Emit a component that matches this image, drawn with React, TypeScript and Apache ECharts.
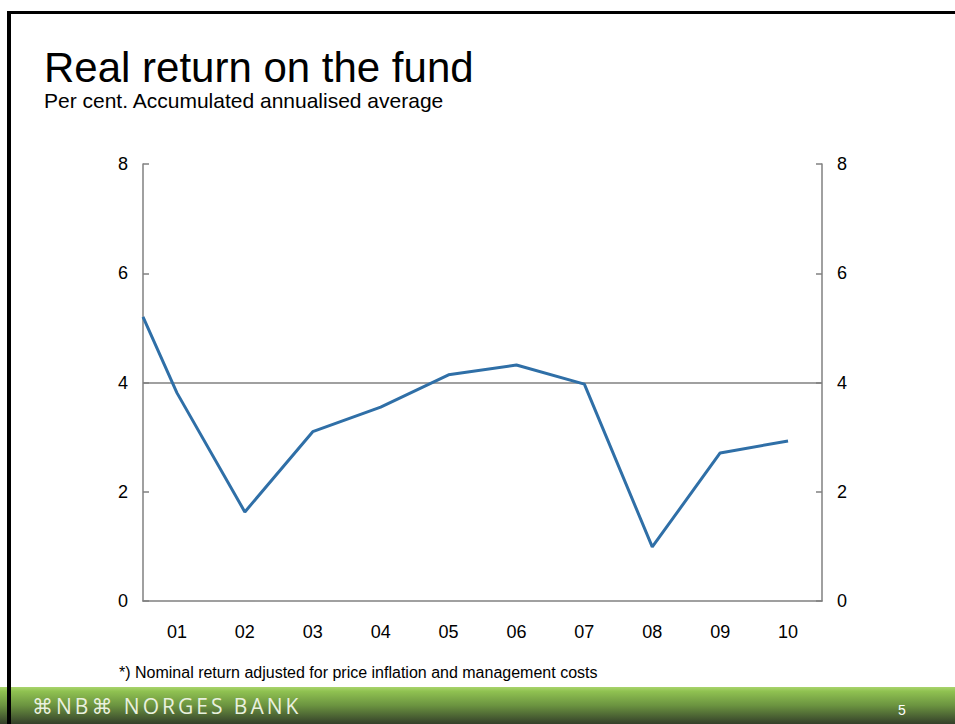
import React, { useEffect, useRef } from 'react';
import * as echarts from 'echarts';

const yearLabels = ['01', '02', '03', '04', '05', '06', '07', '08', '09', '10'];
const startValue = 5.2;
const realReturn = [3.81, 1.63, 3.1, 3.55, 4.14, 4.32, 3.97, 0.99, 2.71, 2.93];
const referenceLevel = 4;
const yMin = 0;
const yMax = 8;
const yStep = 2;

const title = 'Real return on the fund';
const subtitle = 'Per cent. Accumulated annualised average';
const footnote = '*) Nominal return adjusted for price inflation and management costs';
const pageNumber = '5';

const FONT = '"Liberation Sans", Arial, sans-serif';
const AXIS_GREY = '#808080';

export default function App() {
  const ref = useRef<HTMLDivElement>(null);

  useEffect(() => {
    if (!ref.current) return;
    const chart = echarts.init(ref.current, null, { renderer: 'svg' });
    const lineData = [[0, startValue], ...realReturn.map((v, i) => [i + 0.5, v])];

    const yAxisCommon = {
      type: 'value' as const,
      min: yMin,
      max: yMax,
      interval: yStep,
      axisLine: { show: true, lineStyle: { color: AXIS_GREY, width: 1.5 } },
      axisTick: { show: true, inside: true, length: 6, lineStyle: { color: AXIS_GREY, width: 1.5 } },
      axisLabel: { fontSize: 18, color: '#000', fontFamily: FONT, margin: 15 },
      splitLine: { show: false },
    };

    chart.setOption({
      animation: false,
      backgroundColor: '#ffffff',
      grid: { left: 143, right: 133, top: 164, bottom: 123, containLabel: false },
      xAxis: [
        { type: 'value', min: 0, max: yearLabels.length, show: false },
        {
          type: 'category',
          data: yearLabels,
          position: 'bottom',
          boundaryGap: true,
          axisLine: { show: true, lineStyle: { color: AXIS_GREY, width: 1.5 } },
          axisTick: { show: false },
          axisLabel: { fontSize: 18, color: '#000', fontFamily: FONT, margin: 22 },
          splitLine: { show: false },
        },
      ],
      yAxis: [
        { ...yAxisCommon, position: 'left' },
        { ...yAxisCommon, position: 'right' },
      ],
      series: [
        {
          type: 'line',
          xAxisIndex: 0,
          yAxisIndex: 0,
          data: lineData,
          symbol: 'none',
          lineStyle: { color: '#2f6fa7', width: 3 },
          z: 5,
          markLine: {
            silent: true,
            symbol: 'none',
            label: { show: false },
            lineStyle: { color: AXIS_GREY, width: 1.5, type: 'solid' },
            data: [{ yAxis: referenceLevel }],
            z: 2,
          },
        },
      ],
      graphic: [
        {
          type: 'rect',
          shape: { x: 0, y: 687, width: 955, height: 37 },
          style: {
            fill: new echarts.graphic.LinearGradient(0, 0, 0, 1, [
              { offset: 0, color: '#a9d46c' },
              { offset: 0.12, color: '#8fc151' },
              { offset: 0.5, color: '#6b9340' },
              { offset: 1, color: '#34402a' },
            ]),
          },
          z: 10,
        },
        {
          type: 'line',
          shape: { x1: 9, y1: 11, x2: 9, y2: 724 },
          style: { stroke: '#000', lineWidth: 4 },
          z: 11,
        },
        {
          type: 'line',
          shape: { x1: 7, y1: 12.5, x2: 955, y2: 12.5 },
          style: { stroke: '#000', lineWidth: 3 },
          z: 11,
        },
        {
          type: 'text',
          x: 44,
          y: 67,
          style: { text: title, font: `42px ${FONT}`, fill: '#000', verticalAlign: 'middle' },
          z: 11,
        },
        {
          type: 'text',
          x: 44,
          y: 100.5,
          style: { text: subtitle, font: `21px ${FONT}`, fill: '#000', verticalAlign: 'middle' },
          z: 11,
        },
        {
          type: 'text',
          x: 119,
          y: 672,
          style: { text: footnote, font: `16px ${FONT}`, fill: '#000', verticalAlign: 'middle' },
          z: 11,
        },
        {
          type: 'text',
          x: 898,
          y: 710,
          style: { text: pageNumber, font: `14px ${FONT}`, fill: '#ffffff', verticalAlign: 'middle' },
          z: 11,
        },
      ],
    });

    return () => chart.dispose();
  }, []);

  return (
    <div style={{ position: 'absolute', left: 0, top: 0, width: 955, height: 724 }}>
      <div ref={ref} style={{ position: 'absolute', left: 0, top: 0, width: 955, height: 724 }} />
      <div
        style={{
          position: 'absolute',
          left: 32,
          top: 693,
          fontFamily: '"Open Sans", "DejaVu Sans", sans-serif',
          fontSize: 21,
          letterSpacing: 3,
          color: '#e9f0de',
          whiteSpace: 'nowrap',
          lineHeight: '26px',
        }}
      >
        ⌘NB⌘ NORGES BANK
      </div>
    </div>
  );
}
